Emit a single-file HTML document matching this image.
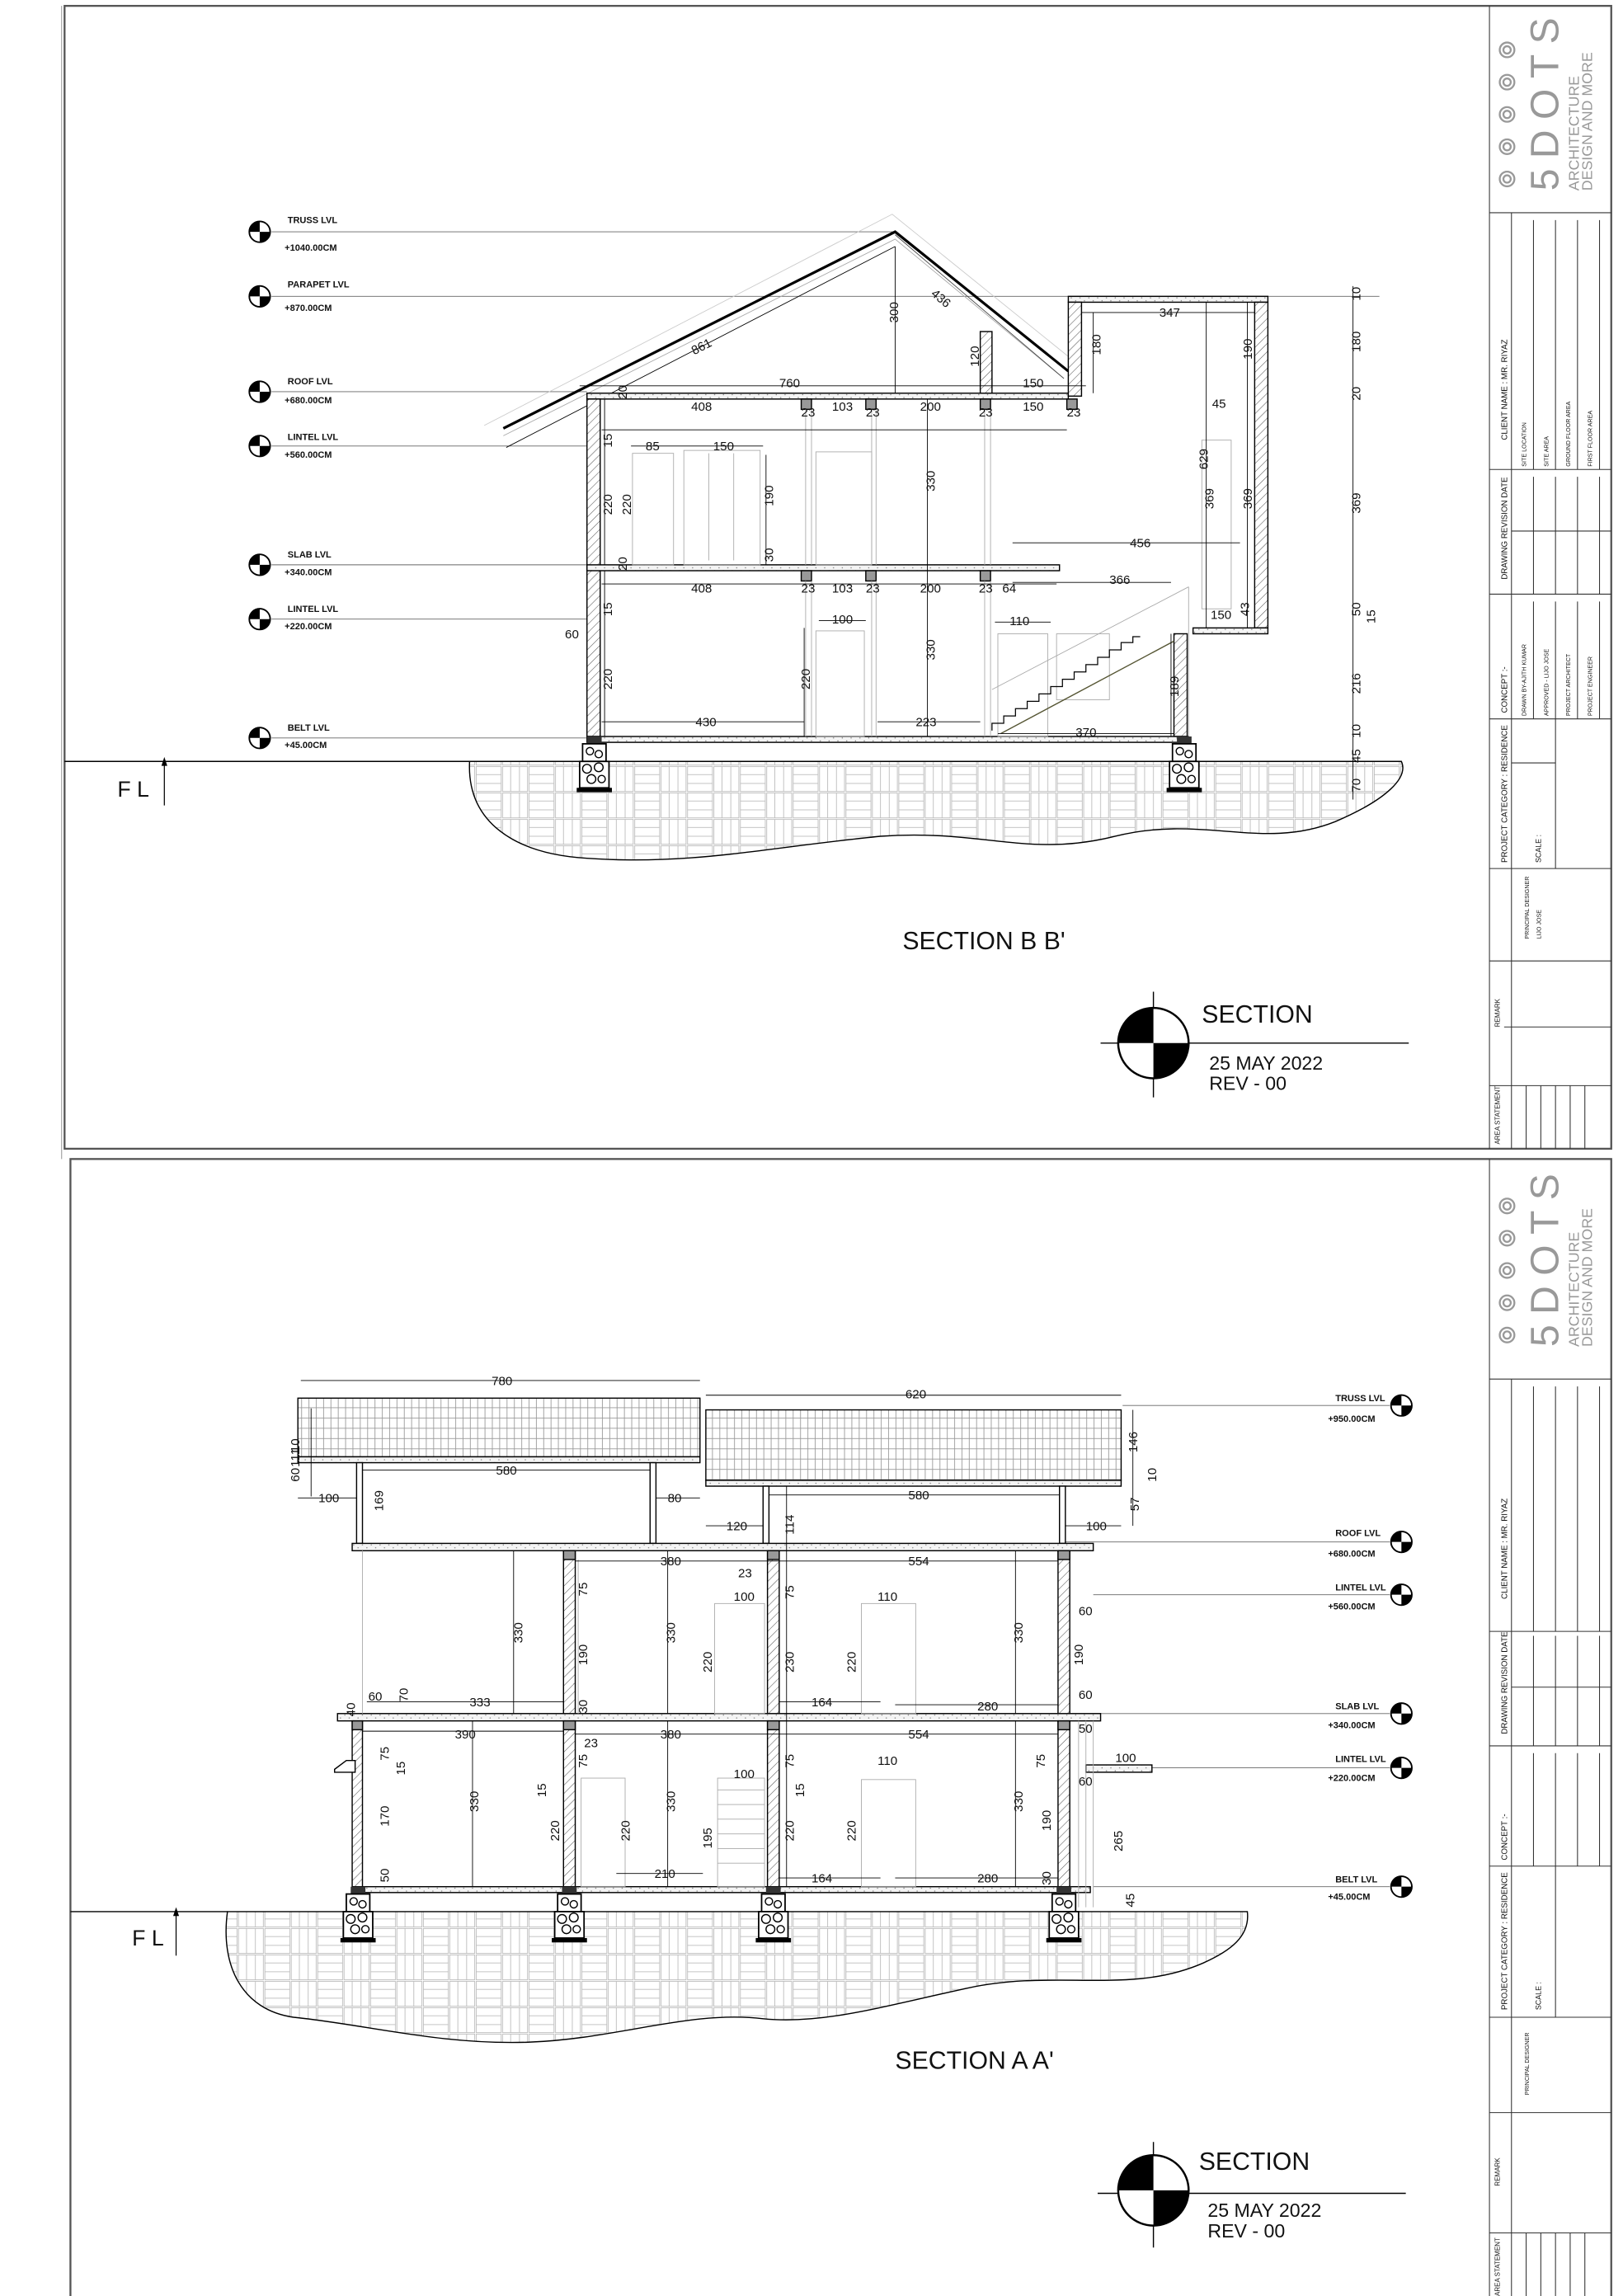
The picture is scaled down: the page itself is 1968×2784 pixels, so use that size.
<!DOCTYPE html>
<html><head><meta charset="utf-8"><style>
html,body{margin:0;padding:0;background:#fff}
svg{display:block}
text{font-family:"Liberation Sans",sans-serif;fill:#111}
.d{font-size:8.5px}
.lv{font-size:6.2px;font-weight:bold}
.tb{font-size:4px}
</style></head><body>
<svg width="1968" height="2784" viewBox="0 0 1106 1565" preserveAspectRatio="none" xmlns="http://www.w3.org/2000/svg">
<defs>
<pattern id="gr" width="36" height="18" patternUnits="userSpaceOnUse">
<rect width="36" height="18" fill="#fff"/>
<g stroke="#bbb" stroke-width="0.5" fill="none">
<rect x="0.5" y="0.5" width="17" height="17"/><line x1="0.5" y1="6" x2="17.5" y2="6"/><line x1="0.5" y1="12" x2="17.5" y2="12"/>
<rect x="18.5" y="0.5" width="17" height="17"/><line x1="24" y1="0.5" x2="24" y2="17.5"/><line x1="30" y1="0.5" x2="30" y2="17.5"/>
</g></pattern>
<pattern id="hx" width="4" height="4" patternUnits="userSpaceOnUse" patternTransform="rotate(45)">
<rect width="4" height="4" fill="#fff"/><line x1="0" y1="0" x2="0" y2="4" stroke="#555" stroke-width="0.6"/></pattern>
<pattern id="tile" width="5" height="7" patternUnits="userSpaceOnUse">
<rect width="5" height="7" fill="#fff"/><path d="M0 0.5H5M0.5 0V7" stroke="#999" stroke-width="0.5"/></pattern>
<pattern id="sl" width="6" height="4" patternUnits="userSpaceOnUse">
<rect width="6" height="4" fill="#f4f4f4"/><circle cx="1" cy="1" r="0.4" fill="#777"/><circle cx="4" cy="3" r="0.4" fill="#777"/></pattern>
<symbol id="lm" viewBox="-9 -9 18 18" overflow="visible">
<circle r="8" fill="#fff" stroke="#000" stroke-width="1.2"/>
<path d="M0 0V-8A8 8 0 0 0 -8 0Z" fill="#000"/><path d="M0 0V8A8 8 0 0 0 8 0Z" fill="#000"/>
</symbol>
<symbol id="ft" viewBox="0 0 24 40" overflow="visible">
<rect x="7" y="0" width="10" height="5" fill="#333"/>
<rect x="4" y="5" width="16" height="12" fill="#fff" stroke="#000"/>
<rect x="2" y="17" width="20" height="18" fill="#fff" stroke="#000"/>
<g fill="none" stroke="#000" stroke-width="0.8"><circle cx="9" cy="10" r="2.5"/><circle cx="15" cy="12" r="2.5"/><circle cx="7" cy="22" r="3"/><circle cx="15" cy="21" r="3"/><circle cx="10" cy="29" r="3"/><circle cx="17" cy="29" r="2.5"/></g>
<rect x="0" y="35" width="24" height="3" fill="#000"/>
</symbol>
</defs>
<rect width="1106" height="1565" fill="#fff"/>

<!-- ============ SHEET 1 ============ -->
<rect x="44" y="4" width="1054" height="779" fill="none" stroke="#555" stroke-width="1.3"/>
<line x1="42" y1="4" x2="42" y2="790" stroke="#999" stroke-width="0.6"/>
<g stroke="#333" stroke-width="0.6" fill="none">
<line x1="1015" y1="4" x2="1015" y2="783"/>
<line x1="1015" y1="145" x2="1098" y2="145"/><line x1="1015" y1="320" x2="1098" y2="320"/>
<line x1="1015" y1="405" x2="1098" y2="405"/><line x1="1015" y1="490" x2="1098" y2="490"/>
<line x1="1015" y1="592" x2="1098" y2="592"/><line x1="1015" y1="655" x2="1098" y2="655"/>
<line x1="1015" y1="740" x2="1098" y2="740"/>
<line x1="1030" y1="145" x2="1030" y2="740"/>
<line x1="1045" y1="150" x2="1045" y2="320"/><line x1="1060" y1="150" x2="1060" y2="320"/><line x1="1075" y1="150" x2="1075" y2="320"/><line x1="1090" y1="150" x2="1090" y2="320"/>
<line x1="1045" y1="325" x2="1045" y2="405"/><line x1="1060" y1="325" x2="1060" y2="405"/><line x1="1075" y1="325" x2="1075" y2="405"/><line x1="1090" y1="325" x2="1090" y2="405"/>
<line x1="1030" y1="362" x2="1098" y2="362"/>
<line x1="1045" y1="410" x2="1045" y2="490"/><line x1="1060" y1="410" x2="1060" y2="490"/><line x1="1075" y1="410" x2="1075" y2="490"/><line x1="1090" y1="410" x2="1090" y2="490"/>
<line x1="1030" y1="520" x2="1060" y2="520"/><line x1="1060" y1="490" x2="1060" y2="592"/>
<line x1="1030" y1="740" x2="1030" y2="783"/><line x1="1040" y1="740" x2="1040" y2="783"/><line x1="1050" y1="740" x2="1050" y2="783"/><line x1="1060" y1="740" x2="1060" y2="783"/><line x1="1070" y1="740" x2="1070" y2="783"/><line x1="1080" y1="740" x2="1080" y2="783"/>
<line x1="1025" y1="700" x2="1098" y2="700"/>
</g>
<g transform="translate(1027,300) rotate(-90)"><text font-size="5.5">CLIENT NAME : MR. RIYAZ</text></g>
<g transform="translate(1027,395) rotate(-90)"><text font-size="5.5">DRAWING REVISION DATE</text></g>
<g transform="translate(1027,486) rotate(-90)"><text font-size="5.5">CONCEPT :-</text></g>
<g transform="translate(1027,588) rotate(-90)"><text font-size="5.5">PROJECT CATEGORY : RESIDENCE</text></g>
<g transform="translate(1022,700) rotate(-90)"><text font-size="4.5">REMARK</text></g>
<g transform="translate(1022,780) rotate(-90)"><text font-size="4.5">AREA STATEMENT</text></g>
<g transform="translate(1042,640) rotate(-90)"><text class="tb">PRINCIPAL DESIGNER</text></g>
<g transform="translate(1050,640) rotate(-90)"><text class="tb">LIJO JOSE</text></g>
<g transform="translate(1050,588) rotate(-90)"><text font-size="5">SCALE :</text></g>
<g transform="translate(1040,318) rotate(-90)"><text class="tb">SITE LOCATION</text></g>
<g transform="translate(1055,318) rotate(-90)"><text class="tb">SITE AREA</text></g>
<g transform="translate(1070,318) rotate(-90)"><text class="tb">GROUND FLOOR AREA</text></g>
<g transform="translate(1085,318) rotate(-90)"><text class="tb">FIRST FLOOR AREA</text></g>
<g transform="translate(1040,488) rotate(-90)"><text class="tb">DRAWN BY-AJITH KUMAR</text></g>
<g transform="translate(1055,488) rotate(-90)"><text class="tb">APPROVED - LIJO JOSE</text></g>
<g transform="translate(1070,488) rotate(-90)"><text class="tb">PROJECT ARCHITECT</text></g>
<g transform="translate(1085,488) rotate(-90)"><text class="tb">PROJECT ENGINEER</text></g>
<g fill="none" stroke="#999" stroke-width="1.3">
<circle cx="1027" cy="34" r="5"/><circle cx="1027" cy="34" r="2.5"/>
<circle cx="1027" cy="56" r="5"/><circle cx="1027" cy="56" r="2.5"/>
<circle cx="1027" cy="78" r="5"/><circle cx="1027" cy="78" r="2.5"/>
<circle cx="1027" cy="100" r="5"/><circle cx="1027" cy="100" r="2.5"/>
<circle cx="1027" cy="122" r="5"/><circle cx="1027" cy="122" r="2.5"/>
</g>
<g transform="translate(1062,130) rotate(-90)"><text font-size="27" style="fill:#999;letter-spacing:7px">5DOTS</text></g>
<g transform="translate(1076,130) rotate(-90)"><text font-size="10" style="fill:#999">ARCHITECTURE</text></g>
<g transform="translate(1085,130) rotate(-90)"><text font-size="10" style="fill:#999">DESIGN AND MORE</text></g>

<g stroke="#666" stroke-width="0.5">
<line x1="185" y1="158" x2="610" y2="158"/><line x1="185" y1="202" x2="940" y2="202"/>
<line x1="185" y1="267" x2="400" y2="267"/><line x1="185" y1="304" x2="400" y2="304"/>
<line x1="185" y1="385" x2="400" y2="385"/><line x1="185" y1="422" x2="400" y2="422"/>
<line x1="185" y1="503" x2="400" y2="503"/>
</g>
<use href="#lm" x="169" y="150" width="16" height="16"/><use href="#lm" x="169" y="194" width="16" height="16"/>
<use href="#lm" x="169" y="259" width="16" height="16"/><use href="#lm" x="169" y="296" width="16" height="16"/>
<use href="#lm" x="169" y="377" width="16" height="16"/><use href="#lm" x="169" y="414" width="16" height="16"/>
<use href="#lm" x="169" y="495" width="16" height="16"/>
<text class="lv" x="196" y="152">TRUSS LVL</text><text class="lv" x="194" y="171">+1040.00CM</text>
<text class="lv" x="196" y="196">PARAPET LVL</text><text class="lv" x="194" y="212">+870.00CM</text>
<text class="lv" x="196" y="262">ROOF LVL</text><text class="lv" x="194" y="275">+680.00CM</text>
<text class="lv" x="196" y="300">LINTEL LVL</text><text class="lv" x="194" y="312">+560.00CM</text>
<text class="lv" x="196" y="380">SLAB LVL</text><text class="lv" x="194" y="392">+340.00CM</text>
<text class="lv" x="196" y="417">LINTEL LVL</text><text class="lv" x="194" y="429">+220.00CM</text>
<text class="lv" x="196" y="498">BELT LVL</text><text class="lv" x="194" y="510">+45.00CM</text>

<path d="M320 519 H955 C960 530 945 545 910 560 C860 580 820 555 760 570 C700 585 670 565 600 570 C520 578 470 590 400 585 C350 582 318 560 320 519Z" fill="url(#gr)" stroke="#000" stroke-width="0.8"/>
<line x1="44" y1="519" x2="320" y2="519" stroke="#000" stroke-width="0.8"/>
<text x="80" y="543" font-size="15">F L</text>
<line x1="112" y1="549" x2="112" y2="518" stroke="#000" stroke-width="0.7"/><path d="M112 516 l-2 6 h4z" fill="#000"/>

<g stroke="#000" stroke-width="0.8">
<path d="M343 292 L610 158 L728 253" fill="none" stroke-width="1.8"/>
<path d="M343 297 L610 163 L725 258" fill="none" stroke="#aaa" stroke-width="0.5"/>
<path d="M330 290 L608 146 L728 243" fill="none" stroke="#ccc" stroke-width="0.5"/>
<line x1="345" y1="305" x2="610" y2="168" stroke-width="0.5"/>
<line x1="610" y1="160" x2="725" y2="258" stroke-width="0.5" stroke="#444"/>
<rect x="400" y="268" width="328" height="4" fill="url(#sl)"/>
<rect x="728" y="202" width="136" height="4" fill="url(#sl)"/>
<rect x="728" y="206" width="9" height="64" fill="url(#hx)"/>
<rect x="855" y="206" width="9" height="222" fill="url(#hx)"/>
<rect x="668" y="226" width="8" height="42" fill="url(#hx)"/>
<rect x="400" y="272" width="9" height="230" fill="url(#hx)"/>
<line x1="412" y1="272" x2="412" y2="502" stroke-width="0.5"/>
<rect x="400" y="385" width="322" height="4" fill="url(#sl)"/>
<rect x="813" y="428" width="51" height="4" fill="url(#sl)"/>
<rect x="800" y="432" width="9" height="70" fill="url(#hx)"/>
<rect x="400" y="502" width="410" height="4" fill="url(#sl)"/>
<rect x="546" y="272" width="7" height="7" fill="#999"/><rect x="590" y="272" width="7" height="7" fill="#999"/><rect x="668" y="272" width="7" height="7" fill="#999"/><rect x="727" y="272" width="7" height="7" fill="#999"/>
<rect x="546" y="389" width="7" height="7" fill="#999"/><rect x="590" y="389" width="7" height="7" fill="#999"/><rect x="668" y="389" width="7" height="7" fill="#999"/>
</g>
<g stroke="#aaa" stroke-width="0.5" fill="none">
<line x1="549" y1="279" x2="549" y2="385"/><line x1="553" y1="279" x2="553" y2="385"/><line x1="594" y1="279" x2="594" y2="385"/><line x1="597" y1="279" x2="597" y2="385"/>
<line x1="549" y1="396" x2="549" y2="502"/><line x1="553" y1="396" x2="553" y2="502"/><line x1="594" y1="396" x2="594" y2="502"/><line x1="597" y1="396" x2="597" y2="502"/>
<line x1="671" y1="279" x2="671" y2="385"/><line x1="675" y1="279" x2="675" y2="385"/><line x1="671" y1="396" x2="671" y2="502"/><line x1="675" y1="396" x2="675" y2="502"/>
<rect x="431" y="309" width="28" height="76"/><rect x="466" y="307" width="52" height="78"/><line x1="483" y1="309" x2="483" y2="382"/><line x1="500" y1="309" x2="500" y2="382"/>
<rect x="556" y="308" width="38" height="77"/><rect x="556" y="430" width="33" height="72"/>
<rect x="680" y="432" width="34" height="70"/><rect x="720" y="432" width="36" height="45"/>
<line x1="676" y1="470" x2="810" y2="400"/><line x1="810" y1="400" x2="810" y2="502"/>
<rect x="819" y="300" width="20" height="115"/>
</g>
<path d="M676 498 l0 -5 h8 v-5 h8 v-5 h8 v-5 h8 v-5 h8 v-5 h8 v-5 h8 v-5 h8 v-5 h8 v-5 h8 v-5 h8 v-5 h8 v-4 h5" fill="none" stroke="#000" stroke-width="0.7"/>
<line x1="682" y1="500" x2="800" y2="437" stroke="#553" stroke-width="0.8"/>
<use href="#ft" x="393" y="502" width="24" height="40"/>
<use href="#ft" x="795" y="502" width="24" height="40"/>
<g stroke="#000" stroke-width="0.5">
<line x1="410" y1="293" x2="727" y2="293"/><line x1="410" y1="398" x2="720" y2="398"/>
<line x1="395" y1="263" x2="740" y2="263"/>
<line x1="430" y1="304" x2="520" y2="304"/>
<line x1="737" y1="213" x2="855" y2="213"/>
<line x1="610" y1="168" x2="610" y2="268"/><line x1="632" y1="272" x2="632" y2="502"/>
<line x1="745" y1="213" x2="745" y2="268"/><line x1="822" y1="206" x2="822" y2="428"/><line x1="850" y1="206" x2="850" y2="428"/>
<line x1="690" y1="370" x2="845" y2="370"/><line x1="690" y1="397" x2="798" y2="397"/>
<line x1="410" y1="492" x2="548" y2="492"/><line x1="598" y1="492" x2="668" y2="492"/><line x1="680" y1="500" x2="800" y2="500"/>
<line x1="922" y1="195" x2="922" y2="545"/>
<line x1="558" y1="423" x2="590" y2="423"/><line x1="678" y1="424" x2="716" y2="424"/>
<line x1="522" y1="310" x2="522" y2="385"/><line x1="548" y1="428" x2="548" y2="502"/><line x1="798" y1="432" x2="798" y2="502"/>
</g>
<g class="d">
<text x="473" y="242" transform="rotate(-27 473 242)">861</text>
<text x="634" y="201" transform="rotate(40 634 201)">436</text>
<text x="531" y="264">760</text><text x="697" y="264">150</text>
<text x="471" y="280">408</text><text x="567" y="280">103</text><text x="627" y="280">200</text><text x="697" y="280">150</text>
<text x="546" y="284">23</text><text x="590" y="284">23</text><text x="667" y="284">23</text><text x="727" y="284">23</text>
<text x="471" y="404">408</text><text x="567" y="404">103</text><text x="627" y="404">200</text><text x="683" y="404">64</text>
<text x="546" y="404">23</text><text x="590" y="404">23</text><text x="667" y="404">23</text>
<text x="440" y="307">85</text><text x="486" y="307">150</text><text x="790" y="216">347</text>
<text x="770" y="373">456</text><text x="756" y="398">366</text><text x="825" y="422">150</text>
<text x="474" y="495">430</text><text x="624" y="495">223</text><text x="733" y="502">370</text>
<text x="567" y="425">100</text><text x="688" y="426">110</text><text x="826" y="278">45</text><text x="385" y="435">60</text>
<text transform="translate(612,220) rotate(-90)">300</text><text transform="translate(637,335) rotate(-90)">330</text><text transform="translate(637,450) rotate(-90)">330</text>
<text transform="translate(667,250) rotate(-90)">120</text><text transform="translate(750,242) rotate(-90)">180</text><text transform="translate(853,245) rotate(-90)">190</text>
<text transform="translate(823,320) rotate(-90)">629</text><text transform="translate(827,347) rotate(-90)">369</text><text transform="translate(853,347) rotate(-90)">369</text>
<text transform="translate(417,351) rotate(-90)">220</text><text transform="translate(430,351) rotate(-90)">220</text><text transform="translate(527,345) rotate(-90)">190</text>
<text transform="translate(417,470) rotate(-90)">220</text><text transform="translate(552,470) rotate(-90)">220</text><text transform="translate(803,475) rotate(-90)">189</text>
<text transform="translate(417,305) rotate(-90)">15</text><text transform="translate(417,420) rotate(-90)">15</text>
<text transform="translate(427,272) rotate(-90)">20</text><text transform="translate(427,389) rotate(-90)">20</text>
<text transform="translate(527,383) rotate(-90)">30</text>
<text transform="translate(927,205) rotate(-90)">10</text><text transform="translate(927,240) rotate(-90)">180</text><text transform="translate(927,273) rotate(-90)">20</text>
<text transform="translate(927,350) rotate(-90)">369</text><text transform="translate(927,420) rotate(-90)">50</text><text transform="translate(927,473) rotate(-90)">216</text>
<text transform="translate(927,503) rotate(-90)">10</text><text transform="translate(927,520) rotate(-90)">45</text><text transform="translate(927,540) rotate(-90)">70</text>
<text transform="translate(937,425) rotate(-90)">15</text><text transform="translate(851,420) rotate(-90)">43</text>
</g>
<text x="615" y="647" font-size="17">SECTION B B'</text>
<line x1="750" y1="711" x2="960" y2="711" stroke="#000" stroke-width="0.8"/>
<line x1="786" y1="676" x2="786" y2="748" stroke="#000" stroke-width="0.8"/>
<circle cx="786" cy="711" r="24" fill="#fff" stroke="#000" stroke-width="1.4"/>
<path d="M786 711 V687 A24 24 0 0 0 762 711Z M786 711 V735 A24 24 0 0 0 810 711Z" fill="#000"/>
<text x="819" y="697" font-size="17">SECTION</text>
<text x="824" y="729" font-size="13">25 MAY 2022</text>
<text x="824" y="743" font-size="13">REV - 00</text>

<!-- ============ SHEET 2 ============ -->
<rect x="48" y="790" width="1050" height="780" fill="none" stroke="#555" stroke-width="1.3"/>
<g stroke="#333" stroke-width="0.6" fill="none">
<line x1="1015" y1="790" x2="1015" y2="1565"/>
<line x1="1015" y1="940" x2="1098" y2="940"/><line x1="1015" y1="1112" x2="1098" y2="1112"/>
<line x1="1015" y1="1190" x2="1098" y2="1190"/><line x1="1015" y1="1272" x2="1098" y2="1272"/>
<line x1="1015" y1="1375" x2="1098" y2="1375"/><line x1="1015" y1="1440" x2="1098" y2="1440"/>
<line x1="1015" y1="1522" x2="1098" y2="1522"/>
<line x1="1030" y1="940" x2="1030" y2="1522"/>
<line x1="1045" y1="945" x2="1045" y2="1112"/><line x1="1060" y1="945" x2="1060" y2="1112"/><line x1="1075" y1="945" x2="1075" y2="1112"/><line x1="1090" y1="945" x2="1090" y2="1112"/>
<line x1="1045" y1="1115" x2="1045" y2="1190"/><line x1="1060" y1="1115" x2="1060" y2="1190"/><line x1="1075" y1="1115" x2="1075" y2="1190"/><line x1="1090" y1="1115" x2="1090" y2="1190"/>
<line x1="1030" y1="1150" x2="1098" y2="1150"/>
<line x1="1045" y1="1195" x2="1045" y2="1272"/><line x1="1060" y1="1195" x2="1060" y2="1272"/><line x1="1075" y1="1195" x2="1075" y2="1272"/><line x1="1090" y1="1195" x2="1090" y2="1272"/>
<line x1="1060" y1="1272" x2="1060" y2="1375"/>
<line x1="1030" y1="1522" x2="1030" y2="1565"/><line x1="1040" y1="1522" x2="1040" y2="1565"/><line x1="1050" y1="1522" x2="1050" y2="1565"/><line x1="1060" y1="1522" x2="1060" y2="1565"/><line x1="1070" y1="1522" x2="1070" y2="1565"/><line x1="1080" y1="1522" x2="1080" y2="1565"/>
</g>
<g transform="translate(1027,1090) rotate(-90)"><text font-size="5.5">CLIENT NAME : MR. RIYAZ</text></g>
<g transform="translate(1027,1182) rotate(-90)"><text font-size="5.5">DRAWING REVISION DATE</text></g>
<g transform="translate(1027,1268) rotate(-90)"><text font-size="5.5">CONCEPT :-</text></g>
<g transform="translate(1027,1370) rotate(-90)"><text font-size="5.5">PROJECT CATEGORY : RESIDENCE</text></g>
<g transform="translate(1022,1490) rotate(-90)"><text font-size="4.5">REMARK</text></g>
<g transform="translate(1022,1565) rotate(-90)"><text font-size="4.5">AREA STATEMENT</text></g>
<g transform="translate(1042,1428) rotate(-90)"><text class="tb">PRINCIPAL DESIGNER</text></g>
<g transform="translate(1050,1370) rotate(-90)"><text font-size="5">SCALE :</text></g>
<g fill="none" stroke="#999" stroke-width="1.3">
<circle cx="1027" cy="822" r="5"/><circle cx="1027" cy="822" r="2.5"/>
<circle cx="1027" cy="844" r="5"/><circle cx="1027" cy="844" r="2.5"/>
<circle cx="1027" cy="866" r="5"/><circle cx="1027" cy="866" r="2.5"/>
<circle cx="1027" cy="888" r="5"/><circle cx="1027" cy="888" r="2.5"/>
<circle cx="1027" cy="910" r="5"/><circle cx="1027" cy="910" r="2.5"/>
</g>
<g transform="translate(1062,918) rotate(-90)"><text font-size="27" style="fill:#999;letter-spacing:7px">5DOTS</text></g>
<g transform="translate(1076,918) rotate(-90)"><text font-size="10" style="fill:#999">ARCHITECTURE</text></g>
<g transform="translate(1085,918) rotate(-90)"><text font-size="10" style="fill:#999">DESIGN AND MORE</text></g>

<g stroke="#666" stroke-width="0.5">
<line x1="765" y1="958" x2="947" y2="958"/><line x1="725" y1="1051" x2="947" y2="1051"/>
<line x1="745" y1="1087" x2="947" y2="1087"/><line x1="745" y1="1168" x2="947" y2="1168"/>
<line x1="780" y1="1205" x2="947" y2="1205"/><line x1="745" y1="1286" x2="947" y2="1286"/>
</g>
<use href="#lm" x="947" y="950" width="16" height="16"/><use href="#lm" x="947" y="1043" width="16" height="16"/>
<use href="#lm" x="947" y="1079" width="16" height="16"/><use href="#lm" x="947" y="1160" width="16" height="16"/>
<use href="#lm" x="947" y="1197" width="16" height="16"/><use href="#lm" x="947" y="1278" width="16" height="16"/>
<text class="lv" x="910" y="955">TRUSS LVL</text><text class="lv" x="905" y="969">+950.00CM</text>
<text class="lv" x="910" y="1047">ROOF LVL</text><text class="lv" x="905" y="1061">+680.00CM</text>
<text class="lv" x="910" y="1084">LINTEL LVL</text><text class="lv" x="905" y="1097">+560.00CM</text>
<text class="lv" x="910" y="1165">SLAB LVL</text><text class="lv" x="905" y="1178">+340.00CM</text>
<text class="lv" x="910" y="1201">LINTEL LVL</text><text class="lv" x="905" y="1214">+220.00CM</text>
<text class="lv" x="910" y="1283">BELT LVL</text><text class="lv" x="905" y="1295">+45.00CM</text>

<path d="M155 1303 H850 C852 1320 838 1330 820 1338 C770 1360 720 1342 660 1355 C600 1368 560 1380 520 1376 C470 1370 420 1390 360 1392 C300 1394 250 1380 200 1375 C165 1370 150 1340 155 1303Z" fill="url(#gr)" stroke="#000" stroke-width="0.8"/>
<line x1="48" y1="1303" x2="155" y2="1303" stroke="#000" stroke-width="0.8"/>
<text x="90" y="1326" font-size="15">F L</text>
<line x1="120" y1="1333" x2="120" y2="1302" stroke="#000" stroke-width="0.7"/><path d="M120 1300 l-2 6 h4z" fill="#000"/>

<g stroke="#000" stroke-width="0.8">
<rect x="203" y="953" width="274" height="40" fill="url(#tile)"/>
<rect x="203" y="993" width="274" height="4" fill="url(#sl)"/>
<rect x="481" y="961" width="283" height="48" fill="url(#tile)"/>
<rect x="481" y="1009" width="283" height="4" fill="url(#sl)"/>
<rect x="243" y="997" width="4" height="55" fill="#fff"/><rect x="443" y="997" width="4" height="55" fill="#fff"/>
<rect x="520" y="1013" width="4" height="39" fill="#fff"/><rect x="722" y="1013" width="4" height="39" fill="#fff"/>
<rect x="240" y="1052" width="505" height="5" fill="url(#sl)"/>
<rect x="230" y="1168" width="520" height="5" fill="url(#sl)"/>
<rect x="243" y="1286" width="500" height="4" fill="url(#sl)"/>
<rect x="384" y="1057" width="8" height="111" fill="url(#hx)"/><rect x="523" y="1057" width="8" height="111" fill="url(#hx)"/><rect x="721" y="1057" width="8" height="111" fill="url(#hx)"/>
<rect x="240" y="1173" width="7" height="113" fill="url(#hx)"/><rect x="384" y="1173" width="8" height="113" fill="url(#hx)"/><rect x="523" y="1173" width="8" height="113" fill="url(#hx)"/><rect x="721" y="1173" width="8" height="113" fill="url(#hx)"/>
<rect x="384" y="1057" width="8" height="6" fill="#999"/><rect x="523" y="1057" width="8" height="6" fill="#999"/><rect x="721" y="1057" width="8" height="6" fill="#999"/>
<rect x="240" y="1173" width="7" height="6" fill="#999"/><rect x="384" y="1173" width="8" height="6" fill="#999"/><rect x="523" y="1173" width="8" height="6" fill="#999"/><rect x="721" y="1173" width="8" height="6" fill="#999"/>
<path d="M228 1206 L236 1200 H242 V1208 H228Z" fill="#fff"/>
<rect x="740" y="1203" width="45" height="5" fill="url(#sl)"/>
</g>
<g stroke="#aaa" stroke-width="0.5" fill="none">
<line x1="247" y1="1057" x2="247" y2="1168"/><line x1="394" y1="1063" x2="394" y2="1168"/>
<rect x="487" y="1093" width="34" height="75"/><rect x="587" y="1093" width="37" height="75"/>
<rect x="396" y="1212" width="30" height="74"/><rect x="587" y="1213" width="37" height="73"/>
<rect x="489" y="1212" width="32" height="74"/>
<line x1="489" y1="1220" x2="521" y2="1220"/><line x1="489" y1="1230" x2="521" y2="1230"/><line x1="489" y1="1240" x2="521" y2="1240"/><line x1="489" y1="1250" x2="521" y2="1250"/><line x1="489" y1="1260" x2="521" y2="1260"/><line x1="489" y1="1270" x2="521" y2="1270"/>
<line x1="735" y1="1173" x2="735" y2="1300"/><line x1="740" y1="1173" x2="740" y2="1300"/><line x1="745" y1="1173" x2="745" y2="1300"/>
</g>
<use href="#ft" x="232" y="1286" width="24" height="40"/><use href="#ft" x="376" y="1286" width="24" height="40"/>
<use href="#ft" x="515" y="1286" width="24" height="40"/><use href="#ft" x="713" y="1286" width="24" height="40"/>
<g stroke="#000" stroke-width="0.5">
<line x1="205" y1="941" x2="477" y2="941"/><line x1="481" y1="951" x2="764" y2="951"/>
<line x1="203" y1="1021" x2="243" y2="1021"/><line x1="447" y1="1021" x2="477" y2="1021"/>
<line x1="247" y1="1002" x2="443" y2="1002"/><line x1="524" y1="1019" x2="722" y2="1019"/>
<line x1="481" y1="1040" x2="520" y2="1040"/><line x1="726" y1="1040" x2="764" y2="1040"/>
<line x1="392" y1="1064" x2="721" y2="1064"/><line x1="392" y1="1182" x2="721" y2="1182"/><line x1="247" y1="1180" x2="384" y2="1180"/>
<line x1="250" y1="1160" x2="384" y2="1160"/><line x1="531" y1="1160" x2="600" y2="1160"/><line x1="610" y1="1162" x2="721" y2="1162"/>
<line x1="531" y1="1280" x2="600" y2="1280"/><line x1="610" y1="1280" x2="721" y2="1280"/><line x1="420" y1="1277" x2="479" y2="1277"/>
<line x1="350" y1="1057" x2="350" y2="1168"/><line x1="455" y1="1057" x2="455" y2="1168"/><line x1="692" y1="1057" x2="692" y2="1168"/>
<line x1="322" y1="1173" x2="322" y2="1286"/><line x1="455" y1="1173" x2="455" y2="1286"/><line x1="692" y1="1173" x2="692" y2="1286"/>
<line x1="536" y1="1013" x2="536" y2="1286"/><line x1="212" y1="960" x2="212" y2="1020"/><line x1="772" y1="961" x2="772" y2="1040"/>
</g>
<g class="d">
<text x="335" y="944">780</text><text x="617" y="953">620</text>
<text x="338" y="1005">580</text><text x="619" y="1022">580</text>
<text x="217" y="1024">100</text><text x="455" y="1024">80</text><text x="495" y="1043">120</text><text x="740" y="1043">100</text>
<text x="450" y="1067">380</text><text x="619" y="1067">554</text><text x="450" y="1185">380</text><text x="619" y="1185">554</text>
<text x="310" y="1185">390</text><text x="320" y="1163">333</text><text x="553" y="1163">164</text><text x="666" y="1166">280</text>
<text x="553" y="1283">164</text><text x="666" y="1283">280</text><text x="446" y="1280">210</text>
<text x="500" y="1091">100</text><text x="598" y="1091">110</text><text x="500" y="1212">100</text><text x="598" y="1203">110</text>
<text x="251" y="1159">60</text><text x="760" y="1201">100</text><text x="735" y="1101">60</text><text x="735" y="1217">60</text><text x="735" y="1181">50</text><text x="735" y="1158">60</text>
<text x="503" y="1075">23</text><text x="398" y="1191">23</text>
<text transform="translate(204,1000) rotate(-90)">111</text><text transform="translate(204,990) rotate(-90)">10</text><text transform="translate(204,1010) rotate(-90)">60</text>
<text transform="translate(261,1030) rotate(-90)">169</text><text transform="translate(541,1046) rotate(-90)">114</text>
<text transform="translate(775,990) rotate(-90)">146</text><text transform="translate(776,1030) rotate(-90)">57</text><text transform="translate(788,1010) rotate(-90)">10</text>
<text transform="translate(356,1120) rotate(-90)">330</text><text transform="translate(460,1120) rotate(-90)">330</text><text transform="translate(697,1120) rotate(-90)">330</text>
<text transform="translate(326,1235) rotate(-90)">330</text><text transform="translate(460,1235) rotate(-90)">330</text><text transform="translate(697,1235) rotate(-90)">330</text>
<text transform="translate(400,1135) rotate(-90)">190</text><text transform="translate(485,1140) rotate(-90)">220</text><text transform="translate(541,1140) rotate(-90)">230</text><text transform="translate(583,1140) rotate(-90)">220</text><text transform="translate(738,1135) rotate(-90)">190</text>
<text transform="translate(265,1245) rotate(-90)">170</text><text transform="translate(381,1255) rotate(-90)">220</text><text transform="translate(429,1255) rotate(-90)">220</text><text transform="translate(485,1260) rotate(-90)">195</text><text transform="translate(541,1255) rotate(-90)">220</text><text transform="translate(583,1255) rotate(-90)">220</text><text transform="translate(716,1248) rotate(-90)">190</text><text transform="translate(765,1262) rotate(-90)">265</text>
<text transform="translate(265,1283) rotate(-90)">50</text><text transform="translate(242,1170) rotate(-90)">40</text><text transform="translate(278,1160) rotate(-90)">70</text>
<text transform="translate(400,1088) rotate(-90)">75</text><text transform="translate(541,1090) rotate(-90)">75</text><text transform="translate(265,1200) rotate(-90)">75</text><text transform="translate(400,1205) rotate(-90)">75</text><text transform="translate(541,1205) rotate(-90)">75</text><text transform="translate(712,1205) rotate(-90)">75</text>
<text transform="translate(400,1168) rotate(-90)">30</text><text transform="translate(716,1285) rotate(-90)">30</text><text transform="translate(773,1300) rotate(-90)">45</text>
<text transform="translate(276,1210) rotate(-90)">15</text><text transform="translate(372,1225) rotate(-90)">15</text><text transform="translate(548,1225) rotate(-90)">15</text>
</g>
<text x="610" y="1410" font-size="17">SECTION A A'</text>
<line x1="748" y1="1495" x2="958" y2="1495" stroke="#000" stroke-width="0.8"/>
<line x1="786" y1="1460" x2="786" y2="1532" stroke="#000" stroke-width="0.8"/>
<circle cx="786" cy="1493" r="24" fill="#fff" stroke="#000" stroke-width="1.4"/>
<path d="M786 1493 V1469 A24 24 0 0 0 762 1493Z M786 1493 V1517 A24 24 0 0 0 810 1493Z" fill="#000"/>
<text x="817" y="1479" font-size="17">SECTION</text>
<text x="823" y="1511" font-size="13">25 MAY 2022</text>
<text x="823" y="1525" font-size="13">REV - 00</text>
</svg>
</body></html>
